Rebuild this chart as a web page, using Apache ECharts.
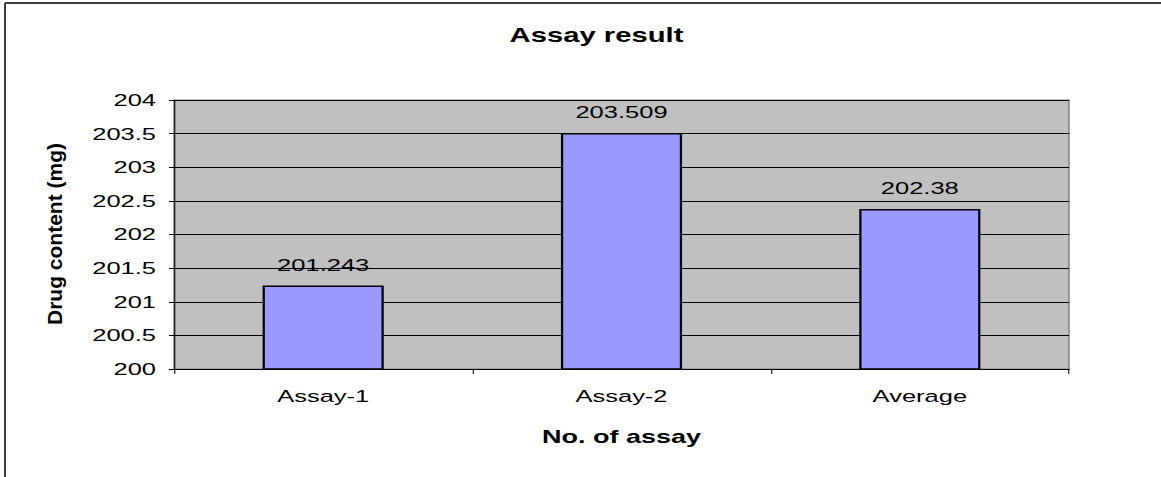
<!DOCTYPE html>
<html>
<head>
<meta charset="utf-8">
<script src="https://cdn.jsdelivr.net/npm/echarts@6/dist/echarts.min.js"></script>
<style>
  html, body { margin: 0; padding: 0; background: #fff; overflow: hidden; }
  #frame { width: 1161px; height: 477px; overflow: hidden; }
  /* The chart is laid out on a narrower canvas and widened, giving the broad lettering of the original sheet chart */
  #chart { width: 774px; height: 477px; transform: scaleX(1.5); transform-origin: 0 0; }
</style>
</head>
<body>
<div id="frame"><div id="chart"></div></div>
<script>
// Assay categories and measured drug content (mg)
const categories = ['Assay-1', 'Assay-2', 'Average'];
const drugContent = [201.243, 203.509, 202.38];

// Value axis range
const yMin = 200;
const yMax = 204;
const yStep = 0.5;

const STRETCH = 1.5;            // horizontal widening applied to #chart
const FONT = '"Liberation Sans", Arial, sans-serif';
const px = v => v / STRETCH;    // screen x -> chart x

const chart = echarts.init(document.getElementById('chart'), null, { renderer: 'svg' });

chart.setOption({
  animation: false,
  backgroundColor: '#ffffff',
  title: {
    text: 'Assay result',
    left: px(589),
    top: 20,
    textAlign: 'center',
    textStyle: { fontFamily: FONT, fontSize: 19.5, fontWeight: 'bold', color: '#000' }
  },
  graphic: [
    // frame lines along the top and left edge
    { type: 'line', shape: { x1: px(5), y1: 3, x2: 774, y2: 3 }, style: { stroke: '#404040', lineWidth: 2 } },
    { type: 'line', shape: { x1: px(5), y1: 3, x2: px(5), y2: 477 }, style: { stroke: '#404040', lineWidth: 2 / STRETCH } },
    // value axis title, kept narrow after widening
    {
      type: 'text',
      x: px(55),
      y: 234,
      rotation: Math.PI / 2,
      scaleY: 0.95 / STRETCH,
      style: {
        text: 'Drug content (mg)',
        font: 'bold 21px ' + FONT,
        fill: '#000',
        textAlign: 'center',
        textVerticalAlign: 'middle'
      }
    }
  ],
  grid: {
    left: px(174),
    top: 100,
    width: px(895),
    height: 269,
    show: true,
    backgroundColor: '#C0C0C0',
    borderColor: '#808080',
    borderWidth: 1
  },
  xAxis: {
    type: 'category',
    data: categories,
    boundaryGap: true,
    name: 'No. of assay',
    nameLocation: 'middle',
    nameGap: 59,
    nameTextStyle: { fontFamily: FONT, fontSize: 18, fontWeight: 'bold', color: '#000' },
    axisLine: { show: true, lineStyle: { color: '#000', width: 1 } },
    axisTick: { show: true, alignWithLabel: false, length: 5, lineStyle: { color: '#000', width: 0.7 } },
    axisLabel: { fontFamily: FONT, fontSize: 17, color: '#000', margin: 19 },
    splitLine: { show: false }
  },
  yAxis: {
    type: 'value',
    min: yMin,
    max: yMax,
    interval: yStep,
    axisLine: { show: true, lineStyle: { color: '#000', width: 0.7 } },
    axisTick: { show: true, length: px(5), lineStyle: { color: '#000' } },
    axisLabel: { fontFamily: FONT, fontSize: 17, color: '#000', margin: px(18) },
    splitLine: { show: true, lineStyle: { color: '#000', width: 1 } }
  },
  series: [{
    type: 'bar',
    data: drugContent,
    barWidth: '40.6%',
    itemStyle: { color: '#9999FF', borderColor: '#000', borderWidth: 1.5 },
    label: {
      show: true,
      position: 'top',
      distance: 12,
      fontFamily: FONT,
      fontSize: 17,
      color: '#000'
    }
  }]
});
</script>
</body>
</html>
